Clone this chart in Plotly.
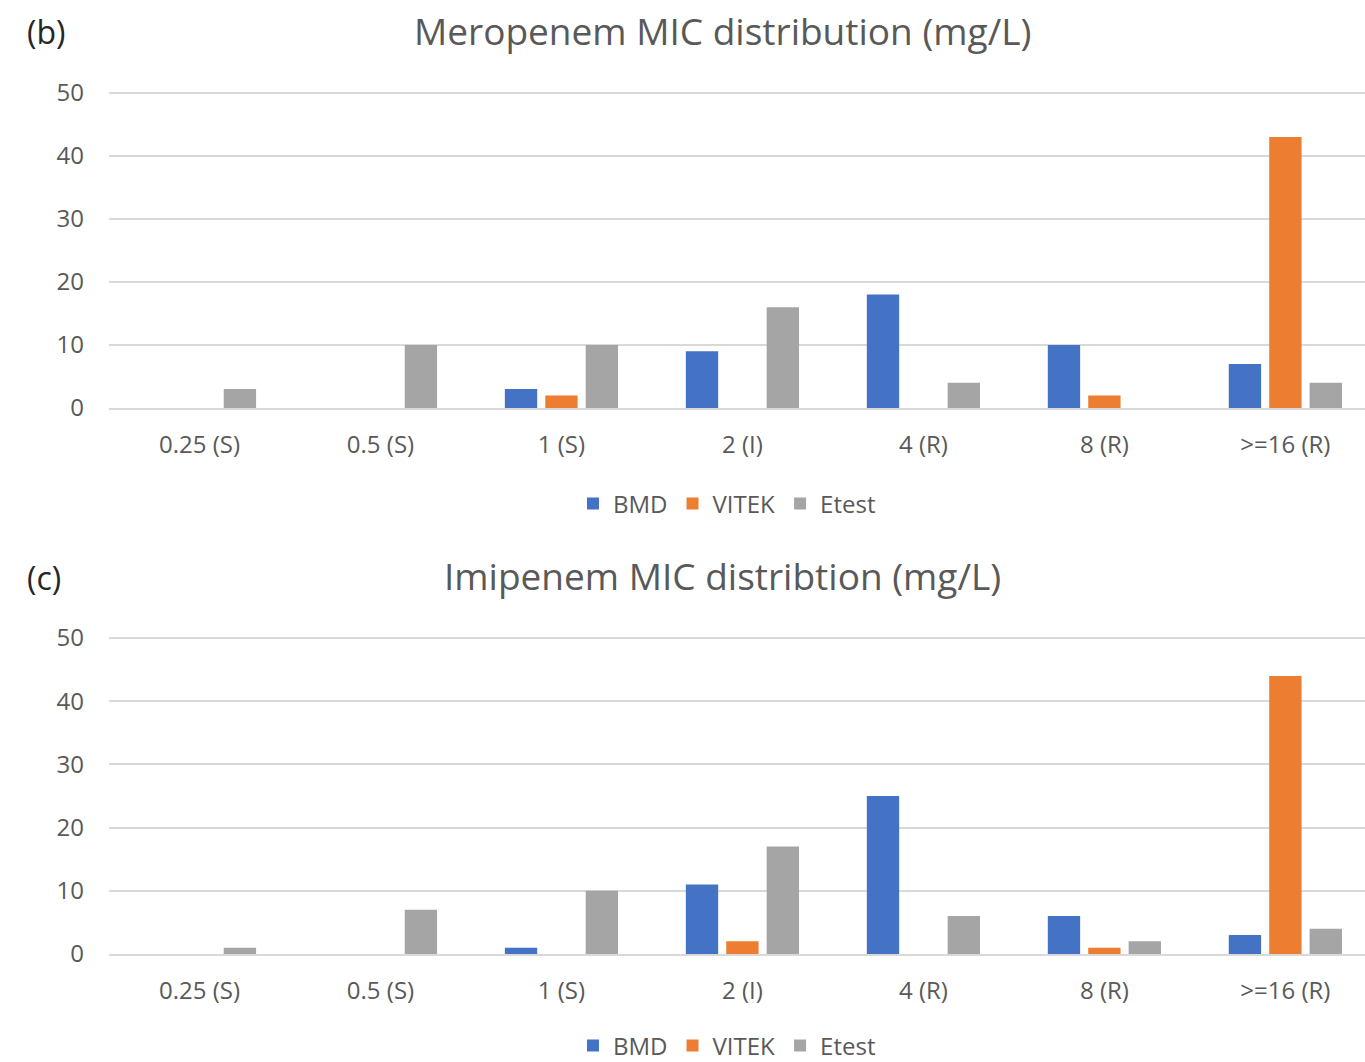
import plotly.graph_objects as go

categories = ["0.25 (S)", "0.5 (S)", "1 (S)", "2 (I)", "4 (R)", "8 (R)", ">=16 (R)"]
series_names = ["BMD", "VITEK", "Etest"]
colors = ["#4472C4", "#ED7D31", "#A5A5A5"]

mero_bmd = [0, 0, 3, 9, 18, 10, 7]
mero_vitek = [0, 0, 2, 0, 0, 2, 43]
mero_etest = [3, 10, 10, 16, 4, 0, 4]

imi_bmd = [0, 0, 1, 11, 25, 6, 3]
imi_vitek = [0, 0, 0, 2, 0, 1, 44]
imi_etest = [1, 7, 10, 17, 6, 2, 4]

y_ticks = [0, 10, 20, 30, 40, 50]

W, H = 1365, 1062
FONT = "'Open Sans', sans-serif"
GRAY = "#595959"
YMAX = 51  # a little headroom so the 50 gridline is drawn

fig = go.Figure()

panels = [
    (mero_bmd, mero_vitek, mero_etest, "x", "y", "legend"),
    (imi_bmd, imi_vitek, imi_etest, "x2", "y2", "legend2"),
]
for vals_b, vals_v, vals_e, xa, ya, lg in panels:
    for name, vals, col in zip(series_names, [vals_b, vals_v, vals_e], colors):
        fig.add_trace(go.Bar(x=categories, y=vals, name=name, marker_color=col,
                             marker_line_width=0, xaxis=xa, yaxis=ya, legend=lg))

x0 = 109 / W
def ydom(top50_px, bot_px):
    px_per_unit = (bot_px - top50_px) / 50.0
    top_px = bot_px - YMAX * px_per_unit
    return [1 - bot_px / H, 1 - top_px / H]

axis_common_x = dict(type="category", range=[-0.5, 6.44], showgrid=False,
                     showline=True, linecolor="#D9D9D9", linewidth=1.5,
                     tickfont=dict(family=FONT, size=24, color=GRAY),
                     ticks="", ticklabelstandoff=14, fixedrange=True, automargin=False)
axis_common_y = dict(range=[0, YMAX], tickvals=y_ticks, showgrid=True,
                     gridcolor="#D9D9D9", gridwidth=1.5, zeroline=False,
                     showline=False,
                     tickfont=dict(family=FONT, size=24, color=GRAY),
                     ticklabelstandoff=24, fixedrange=True, automargin=False)

legend_common = dict(orientation="h", xanchor="center", yanchor="middle",
                     font=dict(family=FONT, size=24, color=GRAY), itemwidth=30,
                     traceorder="normal", tracegroupgap=0)

fig.update_layout(
    width=W, height=H,
    margin=dict(l=0, r=0, t=0, b=0, autoexpand=False),
    paper_bgcolor="white", plot_bgcolor="white",
    barmode="group", bargap=0.33, bargroupgap=0.2,
    xaxis=dict(domain=[x0, 1], anchor="y", **axis_common_x),
    yaxis=dict(domain=ydom(93, 408), anchor="x", **axis_common_y),
    xaxis2=dict(domain=[x0, 1], anchor="y2", **axis_common_x),
    yaxis2=dict(domain=ydom(638, 954), anchor="x2", **axis_common_y),
    legend=dict(x=727 / W, y=1 - 504 / H, **legend_common),
    legend2=dict(x=727 / W, y=1 - 1046 / H, **legend_common),
    annotations=[
        dict(text="Meropenem MIC distribution (mg/L)", x=722 / W, y=1 - 31 / H, xref="paper", yref="paper",
             xanchor="center", yanchor="middle", showarrow=False,
             font=dict(family=FONT, size=37, color=GRAY)),
        dict(text="Imipenem MIC distribtion (mg/L)", x=722 / W, y=1 - 575 / H, xref="paper", yref="paper",
             xanchor="center", yanchor="middle", showarrow=False,
             font=dict(family=FONT, size=37, color=GRAY)),
        dict(text="(b)", x=25 / W, y=1 - 32 / H, xref="paper", yref="paper",
             xanchor="left", yanchor="middle", showarrow=False,
             font=dict(family=FONT, size=32, color="#262626")),
        dict(text="(c)", x=25 / W, y=1 - 577 / H, xref="paper", yref="paper",
             xanchor="left", yanchor="middle", showarrow=False,
             font=dict(family=FONT, size=32, color="#262626")),
    ],
)

fig.write_html("out.html", post_script="document.body.style.margin='0';document.body.style.overflow='hidden';")
